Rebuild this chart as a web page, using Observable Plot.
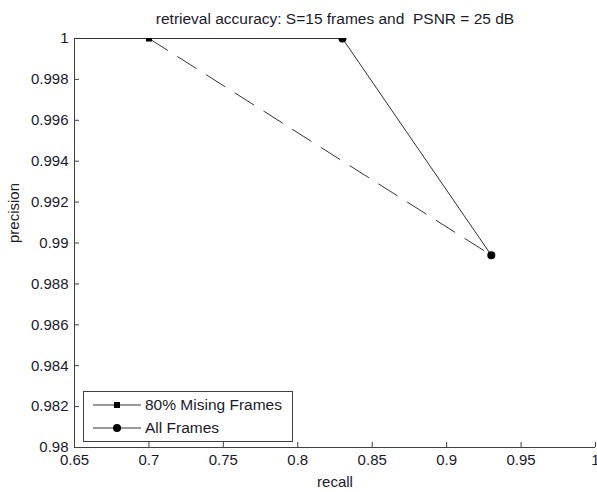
<!DOCTYPE html>
<html>
<head>
<meta charset="utf-8">
<script src="https://cdn.jsdelivr.net/npm/d3@7"></script>
<script src="https://cdn.jsdelivr.net/npm/@observablehq/plot@0.6"></script>
<style>
  html, body { margin: 0; padding: 0; background: #fff; }
  #wrap { position: relative; width: 597px; height: 492px; font-family: "Liberation Sans", Arial, sans-serif; }
  #legend { position: absolute; left: 83px; top: 391px; }
</style>
</head>
<body>
<div id="wrap"></div>
<script>
// ---- data ----
const titleText = "retrieval accuracy: S=15 frames and  PSNR = 25 dB";
const xLabel = "recall";
const yLabel = "precision";

const missingRecall = [0.7, 0.93];
const missingPrecision = [1, 0.9894];
const missingName = "80% Mising Frames";

const allRecall = [0.6, 0.83, 0.93];
const allPrecision = [1, 1, 0.9894];
const allName = "All Frames";

const xTicks = [0.65, 0.7, 0.75, 0.8, 0.85, 0.9, 0.95, 1];
const xTickLabels = ["0.65", "0.7", "0.75", "0.8", "0.85", "0.9", "0.95", "1"];
const yTicks = [0.98, 0.982, 0.984, 0.986, 0.988, 0.99, 0.992, 0.994, 0.996, 0.998, 1];
const yTickLabels = ["0.98", "0.982", "0.984", "0.986", "0.988", "0.99", "0.992", "0.994", "0.996", "0.998", "1"];

// ---- build ----
const missing = missingRecall.map((r, i) => ({recall: r, precision: missingPrecision[i]}));
const all = allRecall.map((r, i) => ({recall: r, precision: allPrecision[i]}));

const W = 597, H = 492, mL = 74, mR = 2, mT = 38, mB = 45;
const pw = W - mL - mR, ph = H - mT - mB;
const ink = "#1a1a2a";
const lineCol = "#333";
const fs = 15;

const chart = Plot.plot({
  width: W, height: H,
  marginLeft: mL, marginRight: mR, marginTop: mT, marginBottom: mB,
  style: {fontFamily: "Liberation Sans, Arial, sans-serif", fontSize: fs + "px", color: ink, background: "#fff", overflow: "visible"},
  x: {domain: [0.65, 1]},
  y: {domain: [0.98, 1]},
  marks: [
    // axis lines
    Plot.ruleY([0.98], {stroke: "#404040"}),
    Plot.ruleX([0.65], {stroke: "#404040"}),
    // inward ticks
    Plot.tickX(xTicks, {x: d => d, insetTop: ph - 5, stroke: "#404040"}),
    Plot.tickY(yTicks, {y: d => d, insetRight: pw - 5, stroke: "#404040"}),
    // tick labels
    Plot.axisX({ticks: xTicks, tickFormat: (d) => xTickLabels[xTicks.indexOf(d)], tickSize: 0, tickPadding: 7, label: null, fontSize: fs, fill: ink}),
    Plot.axisY({ticks: yTicks, tickFormat: (d) => yTickLabels[yTicks.indexOf(d)], tickSize: 0, tickPadding: 6, label: null, fontSize: fs, fill: ink}),
    // data
    Plot.line(missing, {x: "recall", y: "precision", stroke: lineCol, strokeWidth: 1, strokeDasharray: "22,12", clip: true}),
    Plot.line(all, {x: "recall", y: "precision", stroke: lineCol, strokeWidth: 1, clip: true}),
    Plot.dot(all, {x: "recall", y: "precision", r: 4, fill: "#000", stroke: "none", clip: true}),
    Plot.dot(missing.slice(0, 1), {x: "recall", y: "precision", symbol: "square", r: 3.4, fill: "#000", stroke: "none", clip: true}),
    // labels
    Plot.text([titleText], {frameAnchor: "top", dy: -19, lineAnchor: "middle", fontSize: 15.5, fill: ink}),
    Plot.text([xLabel], {frameAnchor: "bottom", dy: 35, lineAnchor: "middle", fontSize: fs, fill: ink}),
    Plot.text([yLabel], {frameAnchor: "left", dx: -60, rotate: -90, lineAnchor: "middle", fontSize: fs, fill: ink})
  ]
});
document.getElementById("wrap").appendChild(chart);

// legend overlay
const series = [
  {name: missingName, symbol: "square"},
  {name: allName, symbol: "circle"}
];
const lg = d3.select("#wrap").append("svg").attr("id", "legend")
  .attr("width", 211).attr("height", 52);
lg.append("rect").attr("x", 0.5).attr("y", 0.5).attr("width", 209).attr("height", 50)
  .attr("fill", "#fff").attr("stroke", "#404040");
series.forEach((s, i) => {
  const y = 14 + i * 23;
  lg.append("line").attr("x1", 10).attr("x2", 58).attr("y1", y).attr("y2", y).attr("stroke", lineCol);
  if (s.symbol === "square") lg.append("rect").attr("x", 31).attr("y", y - 3).attr("width", 6).attr("height", 6).attr("fill", "#000");
  else lg.append("circle").attr("cx", 34).attr("cy", y).attr("r", 4).attr("fill", "#000");
  lg.append("text").attr("x", 62).attr("y", y).attr("dy", "0.35em")
    .attr("font-family", "Liberation Sans, Arial, sans-serif").attr("font-size", 15.5).attr("fill", ink).text(s.name);
});
</script>
</body>
</html>
